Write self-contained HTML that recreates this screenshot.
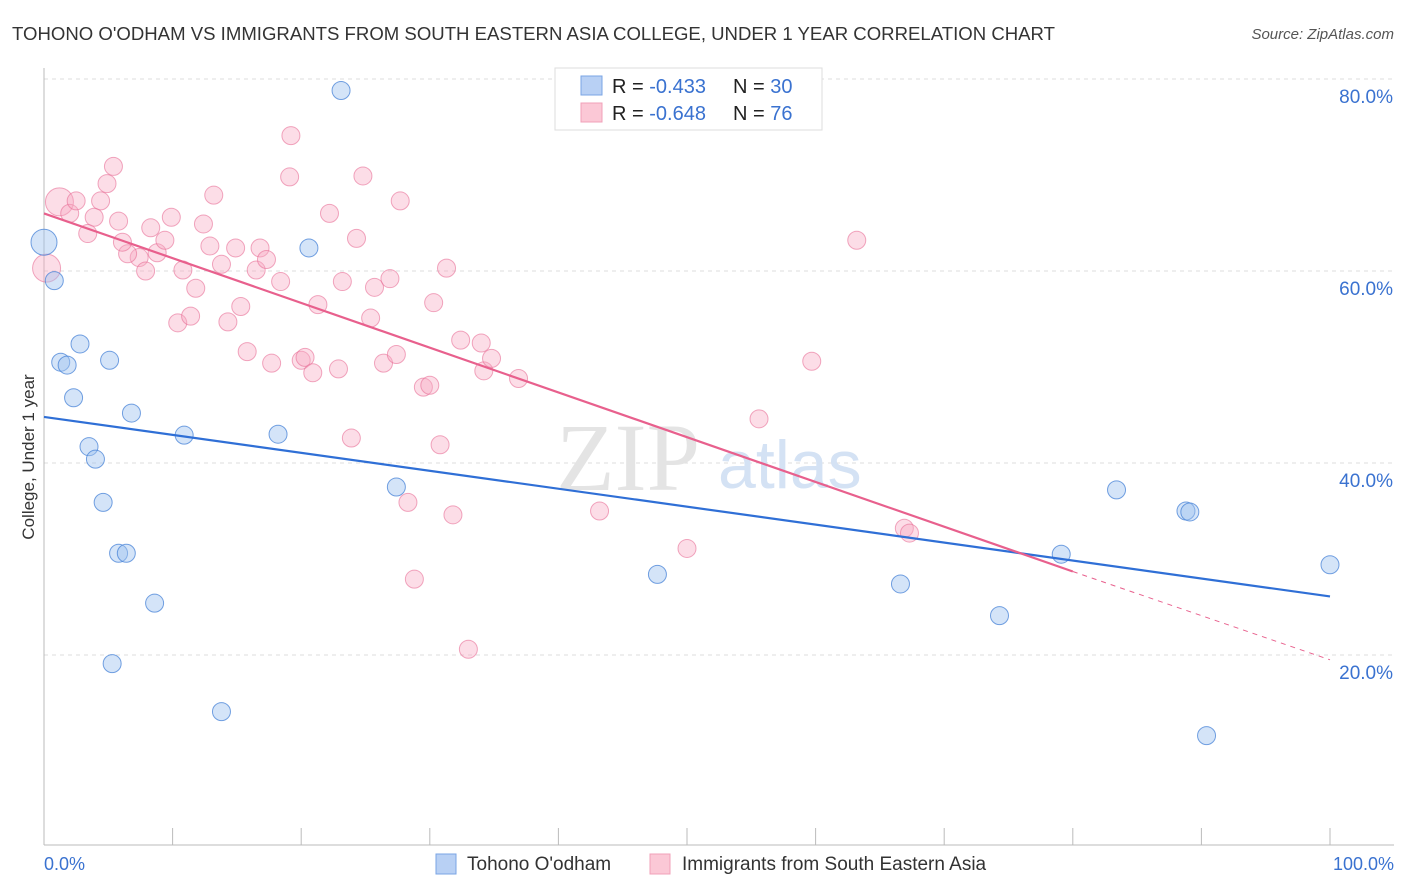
<!DOCTYPE html>
<html><head><meta charset="utf-8"><style>
body{margin:0;background:#fff;font-family:"Liberation Sans",sans-serif;}
svg{display:block}
</style></head><body>
<svg id="chart" width="1406" height="892">
<text x="12" y="40" font-size="18" fill="#333" textLength="1043" lengthAdjust="spacingAndGlyphs">TOHONO O'ODHAM VS IMMIGRANTS FROM SOUTH EASTERN ASIA COLLEGE, UNDER 1 YEAR CORRELATION CHART</text>
<text x="1394" y="39" font-size="15" fill="#555" font-style="italic" text-anchor="end">Source: ZipAtlas.com</text>
<g id="grid"></g>
<text x="700" y="490" font-size="96" fill="#e4e4e4" font-family="Liberation Serif,serif" text-anchor="end">ZIP</text>
<text x="718" y="488" font-size="68" fill="#d4e2f4">atlas</text>
<line x1="44" y1="68" x2="44" y2="845" stroke="#bbb"/>
<line x1="44" y1="845" x2="1394" y2="845" stroke="#bbb"/>
<g id="ticks"></g>
<g id="pink"></g><g id="blue"></g><g id="trends"></g>
<text transform="translate(34,457) rotate(-90)" font-size="17" fill="#333" text-anchor="middle">College, Under 1 year</text>
<text x="44" y="870" font-size="18" fill="#3a72d0">0.0%</text>
<text x="1394" y="870" font-size="18" fill="#3a72d0" text-anchor="end">100.0%</text>
<g>
<rect x="555" y="68" width="267" height="62" fill="#fff" stroke="#ddd"/>
<rect x="581" y="76" width="21" height="19" fill="#b8d0f4" stroke="#7aa4e4"/>
<rect x="581" y="103" width="21" height="19" fill="#fbc8d6" stroke="#f0a0b8"/>
<text x="612" y="93" font-size="20" fill="#222">R = <tspan fill="#3a72d0">-0.433</tspan><tspan x="733">N = </tspan><tspan fill="#3a72d0">30</tspan></text>
<text x="612" y="120" font-size="20" fill="#222">R = <tspan fill="#3a72d0">-0.648</tspan><tspan x="733">N = </tspan><tspan fill="#3a72d0"> 76</tspan></text>
</g>
<g>
<rect x="436" y="854" width="20" height="20" fill="#b8d0f4" stroke="#7aa4e4"/>
<text x="467" y="870" font-size="19" fill="#333">Tohono O'odham</text>
<rect x="650" y="854" width="20" height="20" fill="#fbc8d6" stroke="#f0a0b8"/>
<text x="682" y="870" font-size="19" fill="#333">Immigrants from South Eastern Asia</text>
</g>
</svg>
<script>
const yTicks=[20,40,60,80];
const xTickCount=10;
const blueX=[0,0.8,1.3,1.8,2.3,2.8,3.5,4,4.6,5.1,5.3,5.8,6.4,6.8,8.6,10.9,13.8,18.2,20.6,23.1,27.4,47.7,66.6,74.3,79.1,83.4,88.8,89.1,90.4,100];
const blueY=[63,59,50.5,50.2,46.8,52.4,41.7,40.4,35.9,50.7,19.1,30.6,30.6,45.2,25.4,42.9,14.1,43.0,62.4,78.8,37.5,28.4,27.4,24.1,30.5,37.2,35.0,34.9,11.6,29.4];
const blueR=[13,9,9,9,9,9,9,9,9,9,9,9,9,9,9,9,9,9,9,9,9,9,9,9,9,9,9,9,9,9];
const pinkX=[1.2,0.2,2,4.4,4.9,5.4,3.9,3.4,5.8,8.3,8.8,7.4,6.5,7.9,9.4,9.9,10.8,10.4,11.4,11.8,12.4,13.2,12.9,13.8,14.3,14.9,15.3,15.8,16.5,16.8,17.3,17.7,18.4,19.1,19.2,20,20.3,20.9,21.3,22.2,22.9,23.2,23.9,24.3,24.8,25.4,25.7,26.4,26.9,27.4,27.7,28.3,28.8,29.5,30,30.3,30.8,31.3,31.8,32.4,33,34,34.2,34.8,36.9,43.2,50,55.6,59.7,63.2,66.9,67.3,2.5,6.1];
const pinkY=[67.2,60.3,66,67.3,69.1,70.9,65.6,63.9,65.2,64.5,61.9,61.4,61.8,60.0,63.2,65.6,60.1,54.6,55.3,58.2,64.9,67.9,62.6,60.7,54.7,62.4,56.3,51.6,60.1,62.4,61.2,50.4,58.9,69.8,74.1,50.7,51.0,49.4,56.5,66.0,49.8,58.9,42.6,63.4,69.9,55.1,58.3,50.4,59.2,51.3,67.3,35.9,27.9,47.9,48.1,56.7,41.9,60.3,34.6,52.8,20.6,52.5,49.6,50.9,48.8,35.0,31.1,44.6,50.6,63.2,33.2,32.7,67.3,63.0];
const blueTrend=[44.8,26.1];
const pinkTrend=[66,28.7,80,19.5];
const X=v=>44+v*12.86, Y=v=>847-v*9.6;
const NS="http://www.w3.org/2000/svg";
function mk(t,a,p){const e=document.createElementNS(NS,t);for(const k in a)e.setAttribute(k,a[k]);p.appendChild(e);return e;}
const grid=document.getElementById('grid');
yTicks.forEach(v=>{
 const l=mk('line',{x1:44,x2:1394,y1:Y(v),y2:Y(v),stroke:'#ddd','stroke-dasharray':'4,4'},grid);
 
 
 const t=mk('text',{x:1393,y:Y(v)+24,'font-size':19,fill:'#3a72d0','text-anchor':'end'},grid);
 t.textContent=v.toFixed(1)+'%';
 
 
});
const ticks=document.getElementById('ticks');
for(let i=0;i<=xTickCount;i++){
 const l=mk('line',{x1:X(i*10),x2:X(i*10),y1:828,y2:845,stroke:'#bbb'},ticks);
 
 
}
const pg=document.getElementById('pink');
pinkX.forEach((x,i)=>{
 const r=(i<2)?14:9;
 const c=mk('circle',{cx:X(x),cy:Y(pinkY[i]),r:r,fill:'rgba(248,170,195,0.4)',stroke:'rgba(232,110,150,0.6)','stroke-width':1},pg);
 
 
});
const bg=document.getElementById('blue');
blueX.forEach((x,i)=>{
 const c=mk('circle',{cx:X(x),cy:Y(blueY[i]),r:blueR[i],fill:'rgba(160,195,240,0.45)',stroke:'rgba(70,130,215,0.75)','stroke-width':1},bg);
 
 
});
const tg=document.getElementById('trends');
const b=mk('line',{x1:X(0),y1:Y(blueTrend[0]),x2:X(100),y2:Y(blueTrend[1]),stroke:'#2f6fd6','stroke-width':2.2},tg);


const p=mk('line',{x1:X(0),y1:Y(pinkTrend[0]),x2:X(pinkTrend[2]),y2:Y(pinkTrend[1]),stroke:'#e8608d','stroke-width':2.2},tg);


const pd=mk('line',{x1:X(pinkTrend[2]),y1:Y(pinkTrend[1]),x2:X(100),y2:Y(pinkTrend[3]),stroke:'#e8608d','stroke-width':1,'stroke-dasharray':'5,5'},tg);


</script>
</body></html>
